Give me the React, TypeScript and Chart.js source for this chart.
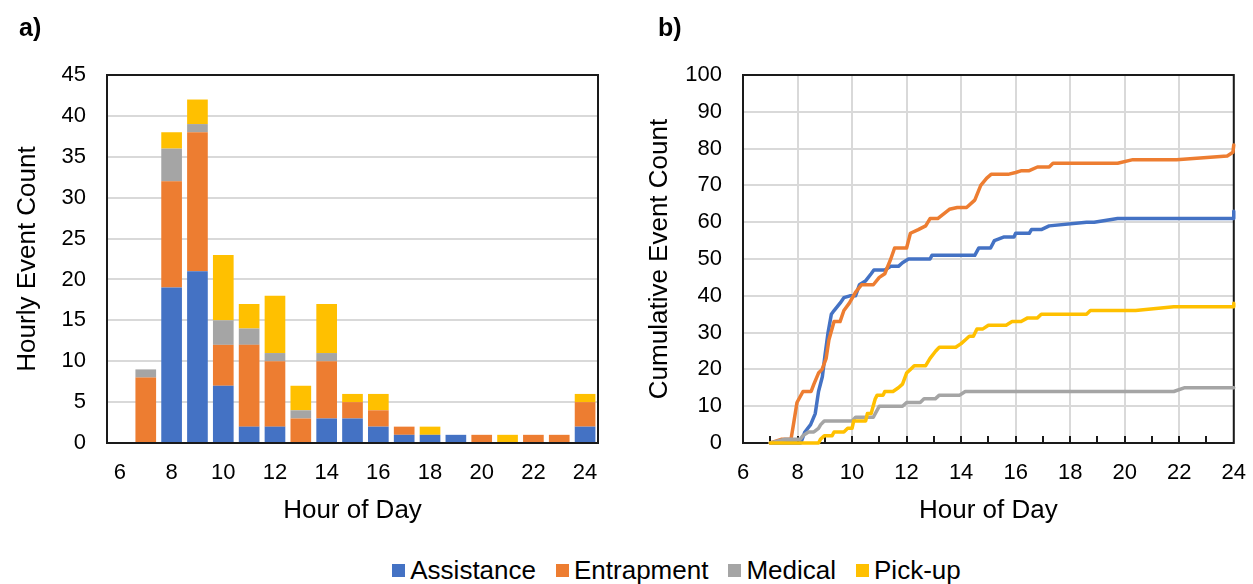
import React, { useEffect, useRef } from 'react';
import { Chart, registerables } from 'chart.js';
Chart.register(...registerables);

const FONT = "'Liberation Sans', Arial, sans-serif";
const C_ASSIST = '#4472C4';
const C_ENTRAP = '#ED7D31';
const C_MEDICAL = '#A5A5A5';
const C_PICKUP = '#FFC000';

// ---------- panel a) hourly counts ----------
const hourLabels = ['6', '7', '8', '9', '10', '11', '12', '13', '14', '15', '16', '17', '18', '19', '20', '21', '22', '23', '24'];
const assistanceHourly = [0, 0, 19, 21, 7, 2, 2, 0, 3, 3, 2, 1, 1, 1, 0, 0, 0, 0, 2];
const entrapmentHourly = [0, 8, 13, 17, 5, 10, 8, 3, 7, 2, 2, 1, 0, 0, 1, 0, 1, 1, 3];
const medicalHourly = [0, 1, 4, 1, 3, 2, 1, 1, 1, 0, 0, 0, 0, 0, 0, 0, 0, 0, 0];
const pickupHourly = [0, 0, 2, 3, 8, 3, 7, 3, 6, 1, 2, 0, 1, 0, 0, 1, 0, 0, 1];

// ---------- panel b) cumulative counts: [hour, count] ----------
const assistanceCum: number[][] = [
  [7, 0], [8.12, 0], [8.27, 3], [8.48, 5], [8.65, 8], [8.77, 14], [8.91, 18], [9.01, 24], [9.12, 30],
  [9.24, 35], [9.34, 36], [9.56, 38], [9.7, 39.5], [9.92, 40], [10.13, 40], [10.27, 43], [10.49, 44],
  [10.7, 46], [10.8, 47], [11.2, 47], [11.42, 48], [11.7, 48], [11.85, 49], [12.07, 50], [12.86, 50],
  [12.93, 51], [14.5, 51], [14.65, 53], [15.08, 53], [15.22, 55], [15.58, 56], [15.94, 56], [16.0, 57],
  [16.5, 57], [16.58, 58], [16.94, 58], [17.23, 59], [18.6, 60], [18.88, 60], [19.74, 61], [24, 61], [24, 63],
];
const entrapmentCum: number[][] = [
  [7, 0], [7.4, 1], [7.76, 1], [7.85, 5], [7.98, 11], [8.2, 14], [8.5, 14], [8.6, 16], [8.77, 19],
  [8.9, 20], [9.05, 23], [9.15, 28], [9.34, 33], [9.56, 33], [9.7, 36], [9.9, 38], [10.13, 41],
  [10.35, 43], [10.78, 43], [11.0, 45], [11.2, 46], [11.42, 50], [11.56, 53], [12.0, 53], [12.14, 57],
  [12.43, 58], [12.7, 59], [12.86, 61], [13.14, 61], [13.57, 63.5], [13.86, 64], [14.2, 64], [14.5, 66],
  [14.72, 70], [14.94, 72], [15.1, 73], [15.72, 73], [16.0, 73.5], [16.22, 74], [16.5, 74], [16.8, 75],
  [17.23, 75], [17.37, 76], [19.74, 76], [20.3, 77], [21.9, 77], [23.76, 78], [23.97, 79], [24, 81],
];
const medicalCum: number[][] = [
  [7, 0], [7.55, 1], [8.1, 1], [8.2, 2], [8.4, 3], [8.6, 3], [8.77, 4], [8.85, 5], [8.98, 6], [10.0, 6],
  [10.13, 7], [10.78, 7], [11.0, 10], [11.85, 10], [12.0, 11], [12.5, 11], [12.64, 12], [13.05, 12],
  [13.2, 13], [13.95, 13], [14.15, 14], [21.8, 14], [22.18, 15], [24, 15],
];
const pickupCum: number[][] = [
  [7, 0], [8.77, 0], [8.84, 1], [8.98, 2], [9.27, 2], [9.34, 3], [9.7, 3], [9.84, 4], [10.0, 4],
  [10.06, 6], [10.5, 6], [10.56, 8], [10.7, 8], [10.85, 12], [10.92, 13], [11.14, 13], [11.2, 14],
  [11.5, 14], [11.7, 15], [11.85, 16], [12.0, 19], [12.14, 20], [12.28, 21], [12.7, 21], [12.86, 23],
  [13.07, 25], [13.2, 26], [13.8, 26], [14.0, 27], [14.15, 28], [14.3, 29], [14.45, 29], [14.58, 31],
  [14.8, 31], [15.0, 32], [15.65, 32], [15.87, 33], [16.2, 33], [16.44, 34], [16.8, 34], [16.94, 35],
  [18.6, 35], [18.74, 36], [20.4, 36], [21.8, 37], [24, 37], [24, 38],
];

const legendItems = [
  { label: 'Assistance', color: C_ASSIST },
  { label: 'Entrapment', color: C_ENTRAP },
  { label: 'Medical', color: C_MEDICAL },
  { label: 'Pick-up', color: C_PICKUP },
];

const framePlugin = {
  id: 'frame',
  beforeDatasetsDraw(chart: any, _args: any, opts: any) {
    const { ctx, chartArea: a } = chart;
    ctx.save();
    ctx.strokeStyle = '#1a1a1a';
    ctx.lineWidth = 2;
    ctx.strokeRect(a.left, a.top, a.right - a.left, a.bottom - a.top);
    if (opts && opts.minorTicks) {
      const xs = chart.scales.x;
      for (let h = 7; h < 24; h++) {
        const x = Math.round(xs.getPixelForValue(h));
        ctx.beginPath();
        ctx.moveTo(x, a.bottom);
        ctx.lineTo(x, a.bottom - 7);
        ctx.stroke();
      }
    }
    ctx.restore();
  },
};

const tickFont = { family: FONT, size: 22 };
const titleFont = { family: FONT, size: 26 };

function toXY(arr: number[][]) {
  return arr.map((p) => ({ x: p[0], y: p[1] }));
}

export default function App() {
  const leftRef = useRef<HTMLCanvasElement>(null);
  const rightRef = useRef<HTMLCanvasElement>(null);

  useEffect(() => {
    const barDs = (label: string, data: number[], color: string) => ({
      label, data, backgroundColor: color, borderWidth: 0,
      categoryPercentage: 1.0, barPercentage: 0.8,
    });
    const left = new Chart(leftRef.current as HTMLCanvasElement, {
      type: 'bar',
      data: {
        labels: hourLabels,
        datasets: [
          barDs('Assistance', assistanceHourly, C_ASSIST),
          barDs('Entrapment', entrapmentHourly, C_ENTRAP),
          barDs('Medical', medicalHourly, C_MEDICAL),
          barDs('Pick-up', pickupHourly, C_PICKUP),
        ],
      },
      options: {
        responsive: false,
        animation: false,
        layout: { padding: { left: 0, right: 28, top: 75, bottom: 0 } },
        plugins: { legend: { display: false }, tooltip: { enabled: false }, frame: {} } as any,
        scales: {
          x: {
            stacked: true,
            grid: { display: false, drawTicks: false },
            border: { display: false },
            ticks: {
              autoSkip: false, maxRotation: 0, padding: 17, color: '#000', font: tickFont,
              callback: function (this: any, val: any, idx: number) {
                return idx % 2 === 0 ? this.getLabelForValue(val) : '';
              },
            },
            title: { display: true, text: 'Hour of Day', color: '#000', font: titleFont, padding: { top: 0, bottom: 14 } },
            afterFit: (s: any) => { s.height = 97; },
          },
          y: {
            stacked: true, min: 0, max: 45,
            grid: { color: '#d9d9d9', lineWidth: 2, drawTicks: false },
            border: { display: false },
            ticks: { stepSize: 5, padding: 21, color: '#000', font: tickFont },
            title: { display: true, text: 'Hourly Event Count', color: '#000', font: titleFont, padding: { top: 12, bottom: 0 } },
            afterFit: (s: any) => { s.width = 107; },
          },
        },
      } as any,
      plugins: [framePlugin],
    });

    const lineDs = (label: string, data: number[][], color: string, order: number) => ({
      label, data: toXY(data), borderColor: color, backgroundColor: color, borderWidth: 3.5,
      pointRadius: 0, tension: 0, clip: false, order,
      borderCapStyle: 'round', borderJoinStyle: 'round',
    });
    const right = new Chart(rightRef.current as HTMLCanvasElement, {
      type: 'line',
      data: {
        datasets: [
          lineDs('Assistance', assistanceCum, C_ASSIST, 3),
          lineDs('Entrapment', entrapmentCum, C_ENTRAP, 2),
          lineDs('Medical', medicalCum, C_MEDICAL, 1),
          lineDs('Pick-up', pickupCum, C_PICKUP, 0),
        ],
      },
      options: {
        responsive: false,
        animation: false,
        layout: { padding: { left: 0, right: 0, top: 75, bottom: 0 } },
        plugins: { legend: { display: false }, tooltip: { enabled: false }, frame: { minorTicks: true } } as any,
        scales: {
          x: {
            type: 'linear', min: 6, max: 24,
            grid: { color: '#d9d9d9', lineWidth: 2, drawTicks: false },
            border: { display: false },
            ticks: { stepSize: 2, maxRotation: 0, padding: 17, color: '#000', font: tickFont },
            title: { display: true, text: 'Hour of Day', color: '#000', font: titleFont, padding: { top: 0, bottom: 14 } },
            afterFit: (s: any) => { s.height = 97; },
          },
          y: {
            min: 0, max: 100,
            grid: { color: '#d9d9d9', lineWidth: 2, drawTicks: false },
            border: { display: false },
            ticks: { stepSize: 10, padding: 21, color: '#000', font: tickFont },
            title: { display: true, text: 'Cumulative Event Count', color: '#000', font: titleFont, padding: { top: 18, bottom: 0 } },
            afterFit: (s: any) => { s.width = 117; },
          },
        },
      } as any,
      plugins: [framePlugin],
    });

    return () => {
      left.destroy();
      right.destroy();
    };
  }, []);

  return (
    <div style={{ position: 'absolute', left: 0, top: 0, width: 1253, height: 584, background: '#fff', fontFamily: FONT, overflow: 'hidden' }}>
      <canvas ref={leftRef} width={626} height={540} style={{ position: 'absolute', left: 0, top: 0, width: 626, height: 540 }} />
      <canvas ref={rightRef} width={637} height={540} style={{ position: 'absolute', left: 626, top: 0, width: 637, height: 540 }} />
      <div style={{ position: 'absolute', left: 19, top: 12, fontWeight: 'bold', fontSize: 25, lineHeight: '30px', color: '#000' }}>a)</div>
      <div style={{ position: 'absolute', left: 658, top: 12, fontWeight: 'bold', fontSize: 25, lineHeight: '30px', color: '#000' }}>b)</div>
      <div style={{ position: 'absolute', left: 0, top: 553, width: 1253, height: 34, display: 'flex', justifyContent: 'center', alignItems: 'center', paddingLeft: 100, boxSizing: 'border-box' }}>
        {legendItems.map((it, i) => (
          <div key={it.label} style={{ display: 'flex', alignItems: 'center', marginLeft: i === 0 ? 0 : 20 }}>
            <span style={{ display: 'inline-block', width: 13, height: 13, background: it.color, marginRight: 5 }} />
            <span style={{ fontSize: 26, lineHeight: '30px', color: '#000' }}>{it.label}</span>
          </div>
        ))}
      </div>
    </div>
  );
}
